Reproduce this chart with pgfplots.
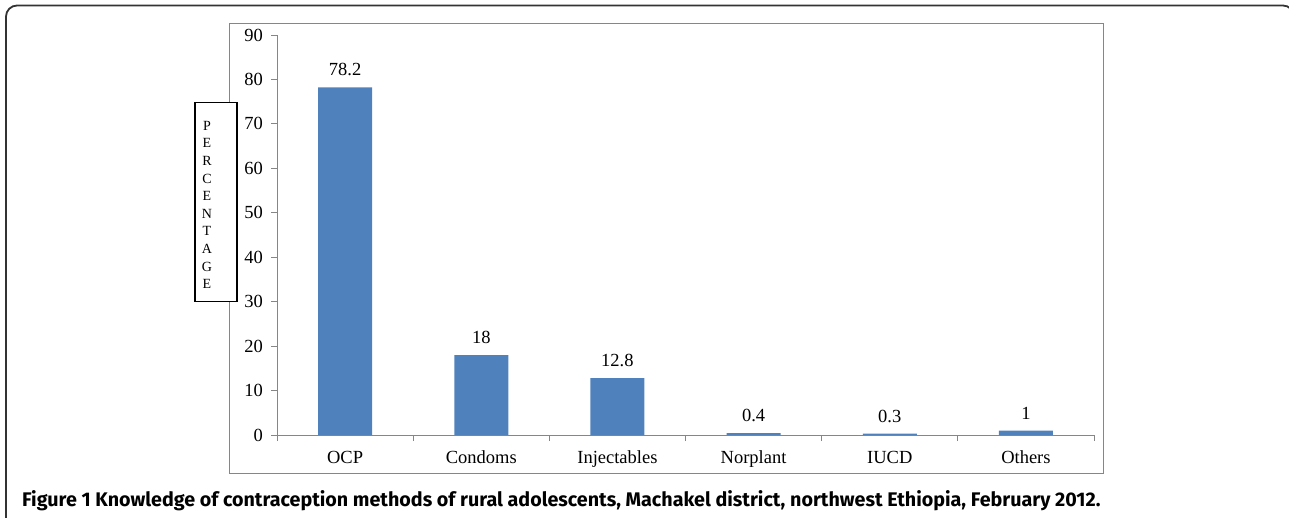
\documentclass[border=0pt]{standalone}
\usepackage{fontspec}
\setmainfont{Liberation Serif}
\newfontfamily\capfont{Fira Sans}
\usepackage{pgfplots}
\pgfplotsset{compat=1.18}
\definecolor{barblue}{HTML}{4F81BD}
\definecolor{axgray}{HTML}{868686}
\newcommand\chartfont{\fontsize{18.5bp}{21bp}\selectfont}

\begin{document}
\begin{tikzpicture}
\useasboundingbox (0,0) rectangle (1289bp,-518bp);
% outer frame
\draw[line width=1.8bp, black!80, rounded corners=11bp]
  (6bp,-530bp) -- (6bp,-5.5bp) -- (1294bp,-5.5bp) -- (1294bp,-40bp);
% chart area border
\draw[axgray, line width=1bp] (229bp,-23bp) rectangle (1103bp,-473bp);

\begin{axis}[
  at={(277bp,-435bp)}, anchor=south west,
  width=817bp, height=400bp, scale only axis,
  xmin=-0.5, xmax=5.5, ymin=0, ymax=90,
  axis x line*=bottom, axis y line*=left,
  axis line style={axgray, line width=0.8bp},
  tick align=outside,
  major tick length=6bp,
  tick style={axgray, line width=0.8bp},
  ytick={0,10,...,90},
  yticklabel style={anchor=east, inner sep=0pt, xshift=-8bp},
  xtick={-0.5,0.5,...,5.5}, xticklabels={},
  extra x ticks={0,1,2,3,4,5},
  extra x tick labels={OCP,Condoms,Injectables,Norplant,IUCD,Others},
  extra x tick style={major tick length=0pt,
    xticklabel style={anchor=base, inner sep=0pt, yshift=-28bp}},
  tick label style={font=\chartfont},
  /pgf/number format/assume math mode=true,
  ybar, bar width=54bp,
  nodes near coords,
  every node near coord/.append style={font=\chartfont, anchor=south,
    inner sep=0pt, yshift=11bp},
]
\addplot[fill=barblue, draw=none] coordinates {
  (0,78.2) (1,18) (2,12.8) (3,0.4) (4,0.3) (5,1)
};
\end{axis}

% y label box
\node[draw=black, line width=1.2bp, fill=white, minimum width=42bp,
  minimum height=199bp, inner sep=0pt] at (216bp,-202bp) {};
\node[align=center, inner sep=0pt, font=\fontsize{14bp}{17.6bp}\selectfont]
  at (207bp,-205bp) {P\\E\\R\\C\\E\\N\\T\\A\\G\\E};

% caption
\node[anchor=base west, inner sep=0pt, font=\capfont\bfseries\fontsize{19.7bp}{22bp}\selectfont]
  at (22bp,-506bp) {Figure 1 Knowledge of contraception methods of rural adolescents, Machakel district, northwest Ethiopia, February 2012.};
\end{tikzpicture}
\end{document}
